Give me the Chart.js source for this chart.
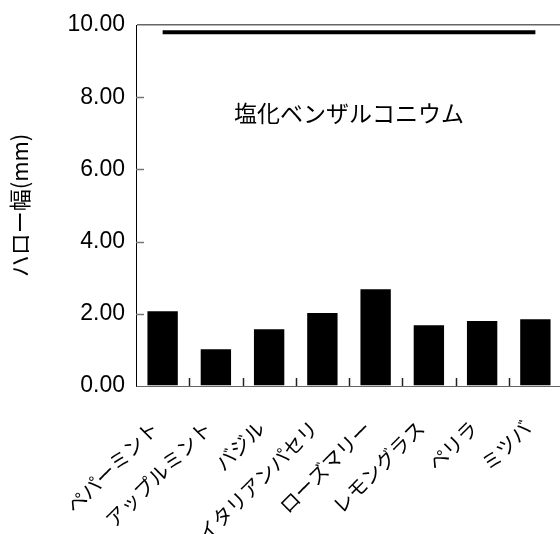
<!DOCTYPE html>
<html>
<head>
<meta charset="utf-8">
<script src="https://cdn.jsdelivr.net/npm/chart.js@4.4.1/dist/chart.umd.min.js"></script>
<style>
  html, body { margin: 0; padding: 0; background: #fff; overflow: hidden; }
  #wrap { width: 562px; height: 534px; }
</style>
</head>
<body>
<div id="wrap"><canvas id="c"></canvas></div>
<script>
// Data
const herbs = ['ペパーミント', 'アップルミント', 'バジル', 'イタリアンパセリ', 'ローズマリー', 'レモングラス', 'ペリラ', 'ミツバ'];
const haloWidth = [2.07, 1.02, 1.57, 2.02, 2.68, 1.68, 1.80, 1.85];
const controlLevel = [9.8, 9.8, 9.8, 9.8, 9.8, 9.8, 9.8, 9.8];
const yTicks = [0, 2, 4, 6, 8, 10];
const panelTitle = '塩化ベンザルコニウム';
const yTitle = 'ハロー幅(mm)';

const numFont = "'Liberation Sans', Arial, sans-serif";
const jpFont = "'Noto Sans CJK JP', sans-serif";

// ticks pointing into the plot, like the original
const innerTicks = {
    id: 'innerTicks',
    afterDraw(chart) {
        const { ctx, chartArea, scales } = chart;
        const x = scales.x, y = scales.y;
        ctx.save();
        ctx.lineWidth = 1.5;
        ctx.strokeStyle = '#222';
        for (let i = 1; i < herbs.length; i++) {
            const px = Math.round((x.getPixelForValue(i - 1) + x.getPixelForValue(i)) / 2) + 0.5;
            ctx.beginPath();
            ctx.moveTo(px, chartArea.bottom);
            ctx.lineTo(px, chartArea.bottom - 8);
            ctx.stroke();
        }
        ctx.strokeStyle = '#777';
        yTicks.forEach(v => {
            if (v === yTicks[0] || v === yTicks[yTicks.length - 1]) return;
            const py = Math.round(y.getPixelForValue(v)) + 0.5;
            ctx.beginPath();
            ctx.moveTo(chartArea.left, py);
            ctx.lineTo(chartArea.left + 8, py);
            ctx.stroke();
        });
        ctx.restore();
    }
};

const panelLabel = {
    id: 'panelLabel',
    afterDraw(chart) {
        const { ctx, chartArea, scales } = chart;
        ctx.save();
        ctx.font = '23px ' + jpFont;
        ctx.fillStyle = '#000';
        ctx.textAlign = 'center';
        ctx.textBaseline = 'middle';
        ctx.fillText(panelTitle, (chartArea.left + chartArea.right) / 2, scales.y.getPixelForValue(7.55));
        ctx.restore();
    }
};

new Chart(document.getElementById('c'), {
    data: {
        labels: herbs,
        datasets: [
            {
                type: 'line',
                data: controlLevel,
                borderColor: '#000',
                borderWidth: 4,
                pointRadius: 0,
                fill: false
            },
            {
                type: 'bar',
                data: haloWidth,
                backgroundColor: '#000',
                borderWidth: 0,
                barPercentage: 0.57,
                categoryPercentage: 1.0
            }
        ]
    },
    options: {
        responsive: true,
        maintainAspectRatio: false,
        animation: false,
        layout: { padding: { top: 25, right: 0, left: 0, bottom: 0 } },
        plugins: {
            legend: { display: false },
            tooltip: { enabled: false }
        },
        scales: {
            x: {
                offset: true,
                grid: { display: true, drawOnChartArea: false, drawTicks: false },
                border: { color: '#666', width: 1 },
                ticks: {
                    maxRotation: 45,
                    minRotation: 45,
                    padding: 30,
                    labelOffset: -8,
                    color: '#000',
                    font: { family: jpFont, size: 20 }
                },
                afterFit(scale) {
                    scale.height = 148;
                    scale.paddingLeft = 0;
                    scale.paddingRight = 0;
                }
            },
            y: {
                min: 0,
                max: 10,
                afterBuildTicks(scale) { scale.ticks = yTicks.map(v => ({ value: v })); },
                grid: {
                    drawTicks: false,
                    lineWidth: 1.5,
                    color: ctx => (ctx.tick && ctx.tick.value === yTicks[yTicks.length - 1]) ? '#666' : 'rgba(0,0,0,0)'
                },
                border: { color: '#000', width: 1 },
                ticks: {
                    padding: 11,
                    color: '#000',
                    font: { family: numFont, size: 23 },
                    callback: v => Number(v).toFixed(2)
                },
                title: {
                    display: true,
                    text: yTitle,
                    color: '#000',
                    font: { family: jpFont, size: 22 },
                    padding: { top: 6, bottom: 0 }
                },
                afterFit(scale) { scale.width = 136; }
            }
        }
    },
    plugins: [innerTicks, panelLabel]
});
</script>
</body>
</html>
